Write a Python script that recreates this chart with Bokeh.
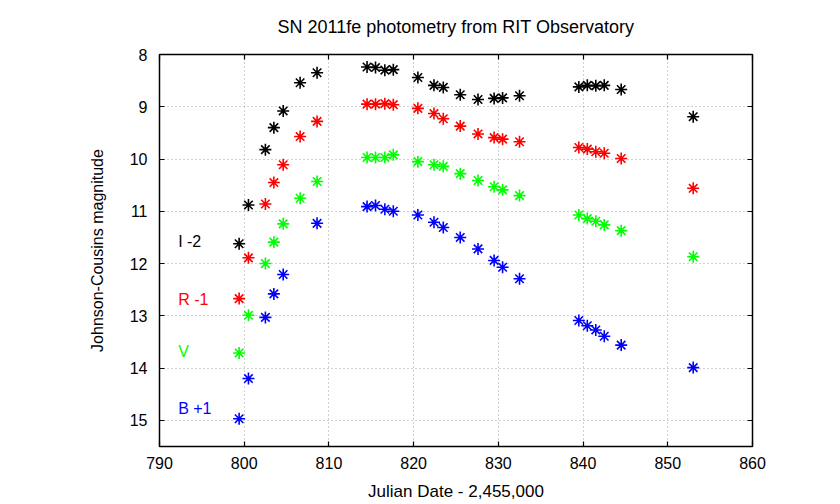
from bokeh.plotting import figure
from bokeh.models import Range1d, SingleIntervalTicker, LinearAxis, ColumnDataSource, CustomJSTickFormatter
from bokeh.core.properties import value
from bokeh.embed import file_html
from bokeh.resources import INLINE

FONT = "Liberation Sans"

title_text = "SN 2011fe photometry from RIT Observatory"
x_label = "Julian Date - 2,455,000"
y_label = "Johnson-Cousins magnitude"

I_jd = [799.4, 800.5, 802.5, 803.5, 804.6, 806.6, 808.6, 814.5, 815.5, 816.6, 817.6, 820.5,
        822.4, 823.5, 825.5, 827.6, 829.5, 830.5, 832.5, 839.5, 840.5, 841.5, 842.5, 844.5, 853.0]
I_mag = [11.62, 10.88, 9.82, 9.40, 9.08, 8.54, 8.35, 8.24, 8.25, 8.30, 8.29, 8.44,
         8.59, 8.63, 8.77, 8.86, 8.84, 8.83, 8.79, 8.62, 8.59, 8.60, 8.59, 8.67, 9.19]

R_jd = [799.4, 800.5, 802.5, 803.5, 804.6, 806.6, 808.6, 814.5, 815.5, 816.6, 817.6, 820.5,
        822.4, 823.5, 825.5, 827.6, 829.5, 830.5, 832.5, 839.5, 840.5, 841.5, 842.5, 844.5, 853.0]
R_mag = [12.67, 11.89, 10.86, 10.45, 10.11, 9.57, 9.28, 8.95, 8.95, 8.94, 8.96, 9.03,
         9.13, 9.23, 9.37, 9.52, 9.59, 9.62, 9.67, 9.78, 9.81, 9.86, 9.89, 9.99, 10.56]

V_jd = [799.4, 800.5, 802.5, 803.5, 804.6, 806.6, 808.6, 814.5, 815.5, 816.6, 817.6, 820.5,
        822.4, 823.5, 825.5, 827.6, 829.5, 830.5, 832.5, 839.5, 840.5, 841.5, 842.5, 844.5, 853.0]
V_mag = [13.71, 12.99, 12.00, 11.59, 11.24, 10.75, 10.43, 9.97, 9.97, 9.97, 9.92, 10.05,
         10.11, 10.14, 10.28, 10.41, 10.53, 10.59, 10.70, 11.07, 11.14, 11.19, 11.26, 11.37, 11.87]

B_jd = [799.4, 800.5, 802.5, 803.5, 804.6, 808.6, 814.5, 815.5, 816.6, 817.6, 820.5,
        822.4, 823.5, 825.5, 827.6, 829.5, 830.5, 832.5, 839.5, 840.5, 841.5, 842.5, 844.5, 853.0]
B_mag = [14.97, 14.20, 13.03, 12.58, 12.21, 11.23, 10.91, 10.89, 10.96, 11.00, 11.07,
         11.21, 11.31, 11.50, 11.72, 11.94, 12.07, 12.29, 13.09, 13.19, 13.27, 13.39, 13.56, 13.99]

band_labels = ["I -2", "R -1", "V", "B +1"]
band_colors = ["#000000", "#ff0000", "#00ff00", "#0000ff"]
label_x = [792.2, 792.2, 792.2, 792.2]
label_y = [11.58, 12.68, 13.68, 14.78]

p = figure(width=840, height=504, output_backend="svg", toolbar_location=None,
           x_range=Range1d(790, 860), y_range=Range1d(15.5, 8),
           min_border_left=159, min_border_right=88, min_border_top=54, min_border_bottom=58)
p.title.visible = False

p.background_fill_color = "white"
p.border_fill_color = "white"
p.outline_line_color = "black"
p.outline_line_width = 1.5

p.xaxis.ticker = SingleIntervalTicker(interval=10)
p.yaxis.ticker = SingleIntervalTicker(interval=1)
for ax in (p.xaxis[0], p.yaxis[0]):
    ax.major_tick_in = 5
    ax.major_tick_out = 0
    ax.minor_tick_in = 0
    ax.minor_tick_out = 0
    ax.axis_line_color = None
    ax.major_tick_line_color = "black"
    ax.major_tick_line_width = 1.2
    ax.major_label_text_font = FONT
    ax.major_label_text_font_size = "16px"
    ax.major_label_text_color = "black"
    ax.axis_label_text_font = FONT
    ax.axis_label_text_font_style = "normal"
    ax.axis_label_text_color = "black"
p.xaxis.axis_label = x_label
p.yaxis.axis_label = y_label
p.xaxis.axis_label_text_font_size = "17px"
p.yaxis.axis_label_text_font_size = "16px"
p.xaxis.major_label_standoff = 10
p.yaxis.major_label_standoff = 12
p.xaxis.axis_label_standoff = 10
p.yaxis.axis_label_standoff = 21

# mirrored top axis carries the chart title as its label
top = LinearAxis(ticker=SingleIntervalTicker(interval=10), major_tick_in=5, major_tick_out=0,
                 minor_tick_in=0, minor_tick_out=0, axis_line_color=None,
                 formatter=CustomJSTickFormatter(code="return '';"), major_tick_line_width=1.2,
                 major_label_standoff=0, axis_label=title_text, axis_label_standoff=18,
                 axis_label_text_font=FONT, axis_label_text_font_size="18px",
                 axis_label_text_font_style="normal", axis_label_text_color="black")
right = LinearAxis(ticker=SingleIntervalTicker(interval=1), major_tick_in=5, major_tick_out=0,
                   minor_tick_in=0, minor_tick_out=0, axis_line_color=None,
                   formatter=CustomJSTickFormatter(code="return '';"), major_tick_line_width=1.2)
p.add_layout(top, "above")
p.add_layout(right, "right")

p.xgrid.ticker = SingleIntervalTicker(interval=10)
p.ygrid.ticker = SingleIntervalTicker(interval=1)
for g in (p.xgrid[0], p.ygrid[0]):
    g.grid_line_color = "#a0a0a0"
    g.grid_line_dash = "1 3"
    g.grid_line_width = 1

series = [(I_jd, I_mag), (R_jd, R_mag), (V_jd, V_mag), (B_jd, B_mag)]
for (xs, ys), c in zip(series, band_colors):
    p.scatter(xs, ys, marker="asterisk", size=12, line_color=c, line_width=1.6)

src = ColumnDataSource(dict(x=label_x, y=label_y, t=band_labels, c=band_colors))
p.text(x="x", y="y", text="t", text_color="c", source=src, text_font=value(FONT),
       text_font_size="16px", text_align="left", text_baseline="middle")

open("out.html", "w").write(file_html(p, INLINE))
